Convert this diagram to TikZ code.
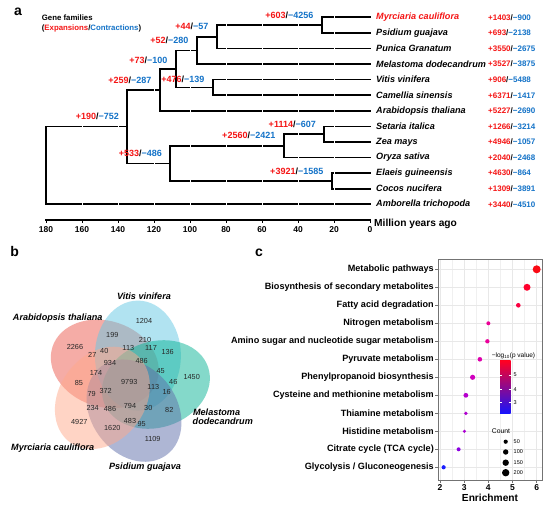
\documentclass[tikz,border=0pt]{standalone}
\usepackage{fontspec}
\setmainfont{Liberation Sans}
\usetikzlibrary{calc}
\definecolor{ered}{RGB}{245,20,20}
\definecolor{cblue}{RGB}{20,115,200}
\definecolor{cArab}{RGB}{236,90,78}
\definecolor{cVit}{RGB}{100,200,228}
\definecolor{cMel}{RGB}{10,180,150}
\definecolor{cPsi}{RGB}{95,110,170}
\definecolor{cMyr}{RGB}{255,170,140}
\newcommand\fsz[1]{\fontsize{#1}{#1}\selectfont}
\newcommand\ec[2]{\textcolor{ered}{#1}/\textcolor{cblue}{#2}}
\begin{document}
\begin{tikzpicture}[x=1pt,y=-1pt,
  br/.style={line width=1.7pt, line join=miter, line cap=rect},
  nlab/.style={anchor=east, inner sep=0pt, font=\fsz{9}\bfseries},
  leaf/.style={anchor=west, inner sep=0pt, font=\fsz{9.1}\bfseries\itshape},
  rlab/.style={anchor=west, inner sep=0pt, font=\fsz{8}\bfseries},
  axlab/.style={inner sep=0pt, font=\fsz{8.5}\bfseries},
  plab/.style={inner sep=0pt, font=\fsz{14}\bfseries},
  vnum/.style={inner sep=0pt, font=\fsz{7.3}, text=black!85},
  vlab/.style={inner sep=0pt, font=\fsz{9.1}\bfseries\itshape},
  ylab/.style={anchor=east, inner sep=0pt, font=\fsz{9.1}\bfseries},
  gridl/.style={draw=black!9, line width=0.5pt},
  gridm/.style={draw=black!6, line width=0.3pt},
  venn/.style={fill opacity=0.5}]
\useasboundingbox (0,0) rectangle (550,510);
\fill[white] (0,0) rectangle (550,510);

% ---------------- panel a ----------------
% tips
\foreach \i/\y in {1/17.3,2/32.9,3/48.5,4/64.0,5/79.6,6/95.2,7/110.8,8/126.4,9/141.9,10/157.5,11/173.1,12/188.7,13/204.3}
  \coordinate (t\i) at (370,\y);
% internal nodes
\coordinate (N1) at (322,25.1);
\coordinate (N2) at (217,36.8);
\coordinate (N3) at (197,50.4);
\coordinate (N4) at (213,87.4);
\coordinate (N5) at (176,68.9);
\coordinate (N6) at (160,89.85);
\coordinate (N7) at (324,134.15);
\coordinate (N8) at (284,145.8);
\coordinate (N9) at (332,180.9);
\coordinate (N10) at (170,163.4);
\coordinate (N11) at (127,126.6);
\coordinate (N12) at (46,165.45);

% branches
\draw[br] (t1) -| (N1) |- (t2);
\draw[br] (N1) -| (N2) |- (t3);
\draw[br] (N2) -| (N3) |- (t4);
\draw[br] (t5) -| (N4) |- (t6);
\draw[br] (N3) -| (N5) |- (N4);
\draw[br] (N5) -| (N6) |- (t7);
\draw[br] (t8) -| (N7) |- (t9);
\draw[br] (N7) -| (N8) |- (t10);
\draw[br] (t11) -| (N9) |- (t12);
\draw[br] (N8) -| (N10) |- (N9);
\draw[br] (N6) -| (N11) |- (N10);
\draw[br] (N11) -| (N12) |- (t13);
% white grid breaks
\foreach \x in {82,118,154,190,226,262,298,334}
  \draw[white, line width=0.6pt] (\x,12) -- (\x,208);

\node[plab] (pa) at (18,11.5) {a};
\node[anchor=west, inner sep=0pt, font=\fsz{7.8}\bfseries] (gf1) at (41.7,17.3) {Gene families};
\node[anchor=west, inner sep=0pt, font=\fsz{7.8}\bfseries] (gf2) at (41.7,28.3) {(\ec{Expansions}{Contractions})};

% node labels
\node[nlab] (l1) at ($(N1)+(-8.5,-10)$) {\ec{+603}{−4256}};
\node[nlab] (l2) at ($(N2)+(-8.5,-10)$) {\ec{+44}{−57}};
\node[nlab] (l3) at ($(N3)+(-8.5,-10)$) {\ec{+52}{−280}};
\node[nlab] (l4) at ($(N4)+(-8.5,-8.5)$) {\ec{+476}{−139}};
\node[nlab] (l5) at ($(N5)+(-8.5,-9)$) {\ec{+73}{−100}};
\node[nlab] (l6) at ($(N6)+(-8.5,-10)$) {\ec{+259}{−287}};
\node[nlab] (l7) at ($(N7)+(-8,-10)$) {\ec{+1114}{−607}};
\node[nlab] (l8) at ($(N8)+(-8.5,-10)$) {\ec{+2560}{−2421}};
\node[nlab] (l9) at ($(N9)+(-8.5,-10)$) {\ec{+3921}{−1585}};
\node[nlab] (l10) at ($(N10)+(-8,-10)$) {\ec{+533}{−486}};
\node[nlab] (l11) at ($(N11)+(-8,-10)$) {\ec{+190}{−752}};

% leaf labels
\foreach \i/\y/\t in {1/17.3/{\textcolor{ered}{Myrciaria cauliflora}},2/32.9/{Psidium guajava},3/48.5/{Punica Granatum},4/64.0/{Melastoma dodecandrum},5/79.6/{Vitis vinifera},6/95.2/{Camellia sinensis},7/110.8/{Arabidopsis thaliana},8/126.4/{Setaria italica},9/141.9/{Zea mays},10/157.5/{Oryza sativa},11/173.1/{Elaeis guineensis},12/188.7/{Cocos nucifera},13/204.3/{Amborella trichopoda}}
  \node[leaf] (L\i) at (376,\y) {\t};
% right labels
\foreach \i/\y/\p/\m in {1/17.3/+1403/−900,2/32.9/+693/−2138,3/48.5/+3550/−2675,4/64.0/+3527/−3875,5/79.6/+906/−5488,6/95.2/+6371/−1417,7/110.8/+5227/−2690,8/126.4/+1266/−3214,9/141.9/+4946/−1057,10/157.5/+2040/−2468,11/173.1/+4630/−864,12/188.7/+1309/−3891,13/204.3/+3440/−4510}
  \node[rlab] (R\i) at (488,\y) {\ec{\p}{\m}};

% time axis
\coordinate (ax0) at (45,220);
\coordinate (ax1) at (371,220);
\draw[line width=1.5pt] (ax0) -- (ax1);
\foreach \x/\l in {46/180,82/160,118/140,154/120,190/100,226/80,262/60,298/40,334/20,370/0}{
  \draw[line width=1pt] (\x,220) -- (\x,223.5);
  \node[axlab] (tk\l) at (\x,229.8) {\l};
}
\node[anchor=west, inner sep=0pt, font=\fsz{10.2}\bfseries] (mya) at (374,224) {Million years ago};

% ---------------- panel b ----------------
\node[plab] (pb) at (14.7,252) {b};
\coordinate (cV) at (137.9,355.6);
\coordinate (cA) at (104.8,363.9);
\coordinate (cY) at (102.4,397.9);
\coordinate (cP) at (134.0,410.6);
\coordinate (cM) at (155.9,384.5);
\fill[cArab, venn, rotate around={162:(cA)}] (cA) ellipse [x radius=55, y radius=43];
\fill[cVit, venn, rotate around={90:(cV)}] (cV) ellipse [x radius=55, y radius=43];
\fill[cMel, venn, rotate around={18:(cM)}] (cM) ellipse [x radius=55, y radius=43];
\fill[cPsi, venn, rotate around={-54:(cP)}] (cP) ellipse [x radius=55, y radius=43];
\fill[cMyr, venn, rotate around={54:(cY)}] (cY) ellipse [x radius=55, y radius=43];

\foreach \n/\x/\y/\t in {a/144/321/1204,b/75/346.7/2266,c/112.3/335/199,d/145/340/210,e/92.3/355/27,f/104.3/351/40,g/128.3/347.7/113,h/151/348.3/117,i/167.7/351.7/136,j/110/362.7/934,k/141.7/360.7/486,l/96/372.7/174,m/160.7/371/45,n/191.7/376.7/1450,o/79/382.7/85,p/129.3/381.7/9793,q/173.3/381.7/46,r/153.3/387.3/113,s/166.7/391.7/16,t/91.7/394.3/79,u/105.7/391/372,v/92.7/407.7/234,w/110/409.3/486,x/130/406/794,y/148.3/408.3/30,z/169.3/410/82,A/79.3/421.7/4927,B/130/420.7/483,C/141.7/424/95,D/112.3/428.3/1620,E/152.7/439.3/1109}
  \node[vnum] (v\n) at (\x,\y) {\t};

\node[vlab] (vlV) at (144,296.7) {Vitis vinifera};
\node[vlab] (vlA) at (57.7,318.3) {Arabidopsis thaliana};
\node[vlab, align=left, anchor=west] (vlM) at (192.5,416.5) {\hspace*{0.4pt}Melastoma\\[-0.4pt]dodecandrum};
\node[vlab] (vlY) at (52.7,447.7) {Myrciaria cauliflora};
\node[vlab] (vlP) at (145,466.7) {Psidium guajava};

% ---------------- panel c ----------------
\node[plab] (pc) at (259,252.5) {c};
\coordinate (pbl) at (438,480);
\coordinate (ptr) at (542,259.5);
% grid
\foreach \e in {2.5,3.5,4.5,5.5}
  \draw[gridm] ({440+(\e-2)*24.17},259.5) -- ({440+(\e-2)*24.17},480);
\foreach \e in {2,3,4,5,6}
  \draw[gridl] ({440+(\e-2)*24.17},259.5) -- ({440+(\e-2)*24.17},480);
\foreach \i in {0,...,11}
  \draw[gridl] (438,{269.3+18*\i}) -- (542,{269.3+18*\i});
\draw[black!55, line width=0.6pt] (pbl) rectangle (ptr);
% y labels
\foreach \i/\t in {0/{Metabolic pathways},1/{Biosynthesis of secondary metabolites},2/{Fatty acid degradation},3/{Nitrogen metabolism},4/{Amino sugar and nucleotide sugar metabolism},5/{Pyruvate metabolism},6/{Phenylpropanoid biosynthesis},7/{Cysteine and methionine metabolism},8/{Thiamine metabolism},9/{Histidine metabolism},10/{Citrate cycle (TCA cycle)},11/{Glycolysis / Gluconeogenesis}}{
  \draw[black!55, line width=0.5pt] (435.3,{269.3+18*\i}) -- (438,{269.3+18*\i});
  \node[ylab] (y\i) at (434,{269.3+18*\i}) {\t};
}
% x ticks
\foreach \e in {2,3,4,5,6}{
  \draw[black!55, line width=0.5pt] ({440+(\e-2)*24.17},480) -- ({440+(\e-2)*24.17},482.7);
  \node[axlab] (xe\e) at ({440+(\e-2)*24.17},487.5) {\e};
}
\node[inner sep=0pt, font=\fsz{10.2}\bfseries] (enr) at (490,498) {Enrichment};
% points
\foreach \i/\e/\r/\cr/\cg/\cb in {0/6.0/4.0/250/10/20,1/5.6/3.5/255/0/45,2/5.24/2.3/250/0/65,3/4.0/2.0/235/0/150,4/3.96/2.2/235/0/155,5/3.65/2.3/222/0/172,6/3.35/2.6/208/0/190,7/3.07/2.4/182/0/205,8/3.07/1.9/176/0/208,9/3.01/1.7/172/0/210,10/2.77/2.0/140/0/225,11/2.15/2.1/25/30/255}{
  \definecolor{dc}{RGB}{\cr,\cg,\cb}
  \fill[dc] ({440+(\e-2)*24.17},{269.3+18*\i}) circle [radius=\r];
}
% legend
\node[inner sep=0pt, font=\fsz{6.5}] (lgt) at (513.5,355.5) {−log\textsubscript{10}(p value)};
\definecolor{cbtop}{RGB}{255,0,35}
\definecolor{cbmid}{RGB}{205,0,185}
\definecolor{cbbot}{RGB}{20,20,255}
\coordinate (cb0) at (500,361);
\coordinate (cb1) at (510.7,414);
\shade[top color=cbtop, middle color=cbmid, bottom color=cbbot] (cb0) rectangle (cb1);
\foreach \v/\y in {5/375,4/389.3,3/402.7}{
  \draw[white, line width=0.4pt] (500,\y) -- (502,\y) (508.7,\y) -- (510.7,\y);
  \node[anchor=west, inner sep=0pt, font=\fsz{5.5}] (cbl\v) at (513.5,\y) {\v};
}
\node[inner sep=0pt, font=\fsz{6.8}] (lgc) at (501,431.5) {Count};
\foreach \n/\y/\r in {50/441.7/2.1,100/452/2.7,150/462.7/3.2,200/472.7/3.7}{
  \fill[black] (505.7,\y) circle [radius=\r];
  \node[anchor=west, inner sep=0pt, font=\fsz{5.5}] (cl\n) at (513.5,\y) {\n};
}
\end{tikzpicture}
\end{document}
